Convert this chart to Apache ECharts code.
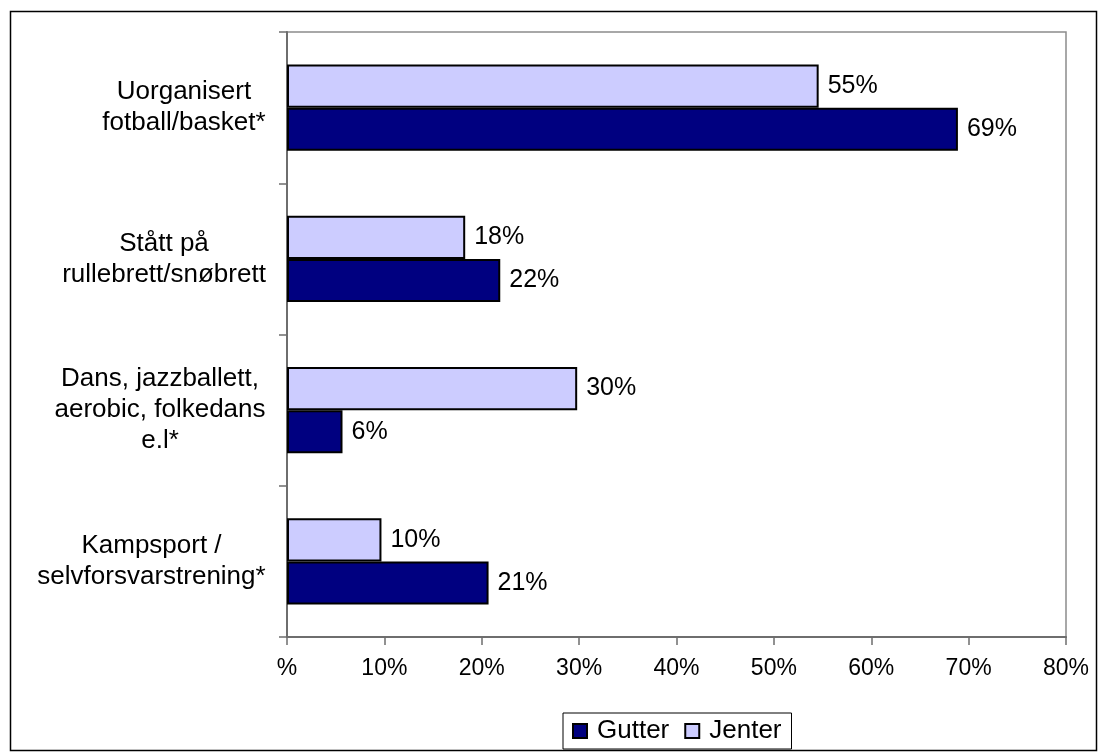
<!DOCTYPE html>
<html>
<head>
<meta charset="utf-8">
<script src="https://cdn.jsdelivr.net/npm/echarts@6/dist/echarts.min.js"></script>
<style>
html,body{margin:0;padding:0;background:#fff;}
#chart{width:1104px;height:756px;}
</style>
</head>
<body>
<div id="chart"></div>
<script>
var categories = ['Uorganisert\nfotball/basket*', 'Stått på\nrullebrett/snøbrett', 'Dans, jazzballett,\naerobic, folkedans\ne.l*', 'Kampsport /\nselvforsvarstrening*'];
var gutter = [68.9, 21.9, 5.7, 20.7];
var jenter = [54.6, 18.3, 29.8, 9.7];
var xTicks = [0, 10, 20, 30, 40, 50, 60, 70, 80];

var FONT = '"Liberation Sans", Arial, sans-serif';
var catFontSize = 26;
var cv = document.createElement('canvas').getContext('2d');
cv.font = catFontSize + 'px ' + FONT;
var rich = {};
categories.forEach(function (c, i) {
  var w = 0;
  c.split('\n').forEach(function (l) { w = Math.max(w, cv.measureText(l).width); });
  rich['w' + i] = { width: Math.ceil(w), align: 'center', fontSize: catFontSize, lineHeight: 31, fontFamily: FONT, color: '#000' };
});

var chart = echarts.init(document.getElementById('chart'));
chart.setOption({
  animation: false,
  textStyle: { fontFamily: FONT, color: '#000' },
  graphic: [{
    type: 'rect', left: 8, top: 9, silent: true,
    shape: { width: 1086, height: 739 },
    style: { fill: 'none', stroke: '#000', lineWidth: 1.5 }
  }],
  grid: {
    left: 287, right: 38, top: 32, bottom: 119,
    show: true, borderColor: '#8c8c8c', borderWidth: 1.5, backgroundColor: '#fff'
  },
  legend: {
    left: 563, top: 713,
    data: ['Gutter', 'Jenter'],
    icon: 'rect', itemWidth: 14, itemHeight: 14, itemGap: 15,
    borderColor: '#000', borderWidth: 1, padding: [5, 10, 5, 9],
    textStyle: { fontSize: 26, fontFamily: FONT, color: '#000', padding: [0, 0, 0, 5] }
  },
  xAxis: {
    type: 'value', min: 0, max: 80, interval: 10,
    axisLine: { show: true, lineStyle: { color: '#6e6e6e', width: 2 } },
    axisTick: { show: true, length: 8, lineStyle: { color: '#6e6e6e', width: 1.5 } },
    splitLine: { show: false },
    axisLabel: {
      margin: 20, fontSize: 23, color: '#000', fontFamily: FONT,
      formatter: function (v) { return v === 0 ? '%' : v + '%'; }
    }
  },
  yAxis: {
    type: 'category', inverse: true, data: categories,
    axisLine: { show: true, lineStyle: { color: '#6e6e6e', width: 2 } },
    axisTick: { show: true, length: 8, lineStyle: { color: '#6e6e6e', width: 1.5 } },
    axisLabel: {
      margin: 21, align: 'right',
      formatter: function (v, i) {
        return v.split('\n').map(function (l) { return '{w' + i + '|' + l + '}'; }).join('\n');
      },
      rich: rich
    }
  },
  series: [
    {
      name: 'Jenter', type: 'bar', data: jenter,
      barCategoryGap: '43%', barGap: '0%',
      itemStyle: { color: '#ccccff', borderColor: '#000', borderWidth: 2 },
      label: { show: true, position: 'right', distance: 9, fontSize: 25, fontFamily: FONT, color: '#000',
        formatter: function (p) { return Math.round(p.value) + '%'; } }
    },
    {
      name: 'Gutter', type: 'bar', data: gutter,
      barCategoryGap: '43%', barGap: '0%',
      itemStyle: { color: '#000080', borderColor: '#000', borderWidth: 2 },
      label: { show: true, position: 'right', distance: 9, fontSize: 25, fontFamily: FONT, color: '#000',
        formatter: function (p) { return Math.round(p.value) + '%'; } }
    }
  ]
});
</script>
</body>
</html>
